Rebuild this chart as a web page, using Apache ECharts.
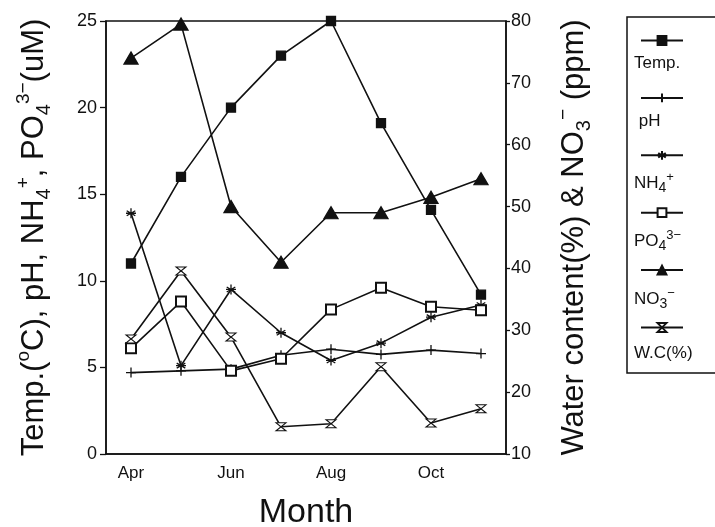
<!DOCTYPE html>
<html><head><meta charset="utf-8">
<script src="https://cdn.jsdelivr.net/npm/echarts@6/dist/echarts.min.js"></script>
<style>html,body{margin:0;padding:0;background:#fff}#c{width:715px;height:527px}</style>
</head><body><div id="c"></div>
<script>
const months = ['Apr','May','Jun','Jul','Aug','Sep','Oct','Nov'];
const temp = [11, 16, 20, 23, 25, 19.1, 14.1, 9.2];
const ph   = [4.7, 4.8, 4.9, 5.7, 6.05, 5.75, 6.0, 5.8];
const nh4  = [13.9, 5.1, 9.5, 7.0, 5.4, 6.4, 7.9, 8.6];
const po4  = [6.1, 8.8, 4.8, 5.5, 8.35, 9.6, 8.5, 8.3];
const no3  = [74, 79.5, 50, 41, 49, 49, 51.5, 54.5];
const wc   = [28.6, 39.6, 28.9, 14.4, 14.9, 24.1, 15.0, 17.3];
const leftTicks = {min: 0, max: 25, interval: 5};
const rightTicks = {min: 10, max: 80, interval: 10};
const legendLabels = ['{m|Temp.}', '{m| pH}', '{m|NH}{s|4}{p|+}', '{m|PO}{s|4}{p|3−}', '{m|NO}{s|3}{p|−}', '{m|W.C(%)}'];
const leftName = '{m|Temp.(}{p|o}{m|C), pH, NH}{s|4}{p|+}{m|, PO}{s|4}{p|3−}{m|(uM)}';
const rightName = '{m|Water content(%) & NO}{s|3}{p|−}{m| (ppm)}';

const FONT = 'Liberation Sans, Arial, Helvetica, sans-serif';
const black = '#111';
const chart = echarts.init(document.getElementById('c'), null, {renderer: 'canvas'});

const nameRich = {
  m: {fontSize: 31, lineHeight: 40, verticalAlign: 'middle', color: black, fontFamily: FONT},
  s: {fontSize: 20, lineHeight: 20, verticalAlign: 'bottom', color: black, fontFamily: FONT},
  p: {fontSize: 19, lineHeight: 20, verticalAlign: 'top', color: black, fontFamily: FONT}
};
const legRich = {
  m: {fontSize: 17, lineHeight: 24, verticalAlign: 'middle', color: black, fontFamily: FONT},
  s: {fontSize: 14, lineHeight: 13, verticalAlign: 'bottom', color: black, fontFamily: FONT},
  p: {fontSize: 13, lineHeight: 13, verticalAlign: 'top', color: black, fontFamily: FONT}
};

function mk(name, data, yIdx, symbol, size, itemStyle) {
  return {
    name, type: 'line', data, yAxisIndex: yIdx, symbol, symbolSize: size,
    showSymbol: true, animation: false,
    lineStyle: {color: black, width: 1.6},
    itemStyle: Object.assign({color: black, borderColor: black, borderWidth: 1.3}, itemStyle || {}),
    emphasis: {disabled: true}
  };
}

const option = {
  animation: false,
  backgroundColor: '#fff',
  textStyle: {fontFamily: FONT},
  grid: {left: 106, right: 209, top: 21, bottom: 73, show: true, borderColor: black, borderWidth: 1.5,
         backgroundColor: 'transparent', containLabel: false, outerBoundsMode: 'none'},
  xAxis: {
    type: 'category', data: months, boundaryGap: true,
    axisLine: {lineStyle: {color: black, width: 1.5}},
    axisTick: {alignWithLabel: true, interval: 0, length: 6, lineStyle: {color: black, width: 1.3}},
    axisLabel: {interval: 1, color: black, fontSize: 17, margin: 11, fontFamily: FONT},
    splitLine: {show: false},
    name: 'Month', nameLocation: 'middle', nameGap: 42,
    nameTextStyle: {fontSize: 34, color: black, fontFamily: FONT}
  },
  yAxis: [
    {
      type: 'value', position: 'left', min: leftTicks.min, max: leftTicks.max, interval: leftTicks.interval,
      axisLine: {show: true, lineStyle: {color: black, width: 1.5}},
      axisTick: {show: true, length: 6, lineStyle: {color: black, width: 1.3}},
      axisLabel: {color: black, fontSize: 18, margin: 9, fontFamily: FONT},
      splitLine: {show: false},
      name: leftName, nameLocation: 'middle', nameRotate: 90, nameGap: 52,
      nameTextStyle: {rich: nameRich, color: black, fontFamily: FONT}
    },
    {
      type: 'value', position: 'right', min: rightTicks.min, max: rightTicks.max, interval: rightTicks.interval,
      axisLine: {show: true, lineStyle: {color: black, width: 1.5}},
      axisTick: {show: true, length: 4, lineStyle: {color: black, width: 1.3}},
      axisLabel: {color: black, fontSize: 18, margin: 5, fontFamily: FONT},
      splitLine: {show: false},
      name: rightName, nameLocation: 'middle', nameRotate: 90, nameGap: 48,
      nameTextStyle: {rich: nameRich, color: black, fontFamily: FONT}
    }
  ],
  legend: {
    orient: 'vertical', left: 635, top: 30, itemWidth: 42, itemHeight: 11, itemGap: 46.5,
    formatter: () => '', selectedMode: false,
    textStyle: {fontSize: 1}
  },
  graphic: [
    {type: 'rect', shape: {x: 627, y: 17, width: 120, height: 356}, style: {fill: 'none', stroke: black, lineWidth: 1.5}, silent: true},
  ].concat(legendLabels.map((t, i) => ({
    type: 'text', left: 634, top: 55 + i * 58,
    style: {text: t, rich: legRich, fill: black, fontFamily: FONT}, silent: true
  }))),
  series: [
    mk('Temp.', temp, 0, 'rect', 9),
    mk('pH', ph, 0, 'path://M0,5L10,5M5,0L5,10', 10),
    mk('NH4+', nh4, 0, 'path://M5,0L5,10M0.7,2.5L9.3,7.5M0.7,7.5L9.3,2.5M0,5L10,5', 10),
    mk('PO43-', po4, 0, 'emptyRect', 10, {borderWidth: 1}),
    mk('NO3-', no3, 1, 'triangle', [14, 12]),
    mk('W.C(%)', wc, 1, 'path://M0,0L10,0L0,10L10,10Z', [10, 8], {color: '#fff', borderWidth: 1.1})
  ]
};
chart.setOption(option);
</script>
</body></html>
